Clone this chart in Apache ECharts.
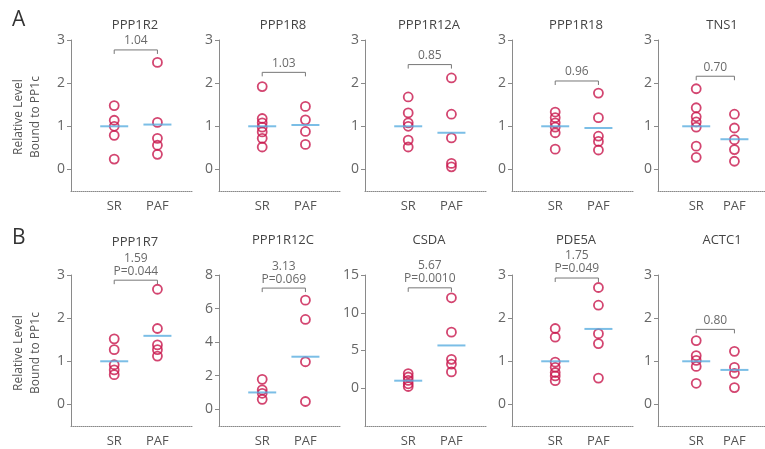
<!DOCTYPE html>
<html>
<head>
<meta charset="utf-8">
<script src="https://cdn.jsdelivr.net/npm/echarts@6/dist/echarts.min.js"></script>
<style>
html,body{margin:0;padding:0;background:#fff;}
#chart{width:765px;height:449px;}
</style>
</head>
<body>
<div id="chart"></div>
<script>
// ---- data ----
const groups = ['SR', 'PAF'];
const titles = ['PPP1R2','PPP1R8','PPP1R12A','PPP1R18','TNS1','PPP1R7','PPP1R12C','CSDA','PDE5A','ACTC1'];
const srValues = [
  [1.48, 1.14, 1.0, 0.79, 0.24],
  [1.92, 1.18, 1.08, 0.98, 0.87, 0.72, 0.52],
  [1.68, 1.31, 1.08, 1.0, 0.68, 0.52],
  [1.33, 1.2, 1.08, 0.98, 0.85, 0.47],
  [1.87, 1.43, 1.22, 1.1, 0.98, 0.54, 0.28],
  [1.52, 1.27, 0.92, 0.8, 0.69],
  [1.78, 1.15, 0.95, 0.59],
  [1.94, 1.49, 1.04, 0.59, 0.23],
  [1.76, 1.56, 0.98, 0.86, 0.74, 0.66, 0.55],
  [1.48, 1.13, 1.02, 0.88, 0.49]
];
const pafValues = [
  [2.48, 1.09, 0.72, 0.56, 0.35],
  [1.46, 1.15, 0.88, 0.58],
  [2.12, 1.28, 0.73, 0.14, 0.06],
  [1.77, 1.2, 0.77, 0.65, 0.45],
  [1.28, 0.96, 0.69, 0.46, 0.19],
  [2.67, 1.76, 1.38, 1.27, 1.12],
  [6.5, 5.35, 2.83, 0.46],
  [11.98, 7.43, 3.83, 3.2, 2.16],
  [2.71, 2.3, 1.64, 1.41, 0.61],
  [1.23, 0.86, 0.72, 0.39]
];
const srMeans = [1, 1, 1, 1, 1, 1, 1, 1, 1, 1];
const pafMeans = [1.04, 1.03, 0.85, 0.96, 0.70, 1.59, 3.13, 5.67, 1.75, 0.80];
const ratioLabels = ['1.04','1.03','0.85','0.96','0.70','1.59\nP=0.044','3.13\nP=0.069','5.67\nP=0.0010','1.75\nP=0.049','0.80'];
const bracketLevels = [2.77, 2.25, 2.43, 2.05, 2.16, 2.88, 7.22, 13.3, 2.93, 1.74];
const yMins = [-0.5, -0.5, -0.5, -0.5, -0.5, -0.5, -1, -5, -0.5, -0.5];
const yMaxs = [3, 3, 3, 3, 3, 3, 8, 15, 3, 3];
const yTickLabels = [
  [0,1,2,3],[0,1,2,3],[0,1,2,3],[0,1,2,3],[0,1,2,3],
  [0,1,2,3],[0,2,4,6,8],[0,5,10,15],[0,1,2,3],[0,1,2,3]
];
const panelLetters = ['A', 'B'];
const yAxisTitle = 'Relative Level\nBound to PP1c';

// ---- layout ----
const colLefts = [71, 219, 365, 512, 658];
const rowTops = [40, 275];
const gw = 121, gh = 151;
const FONT = '"Open Sans", "Noto Sans", sans-serif';
const red = '#c8174c';
const blue = '#5aaee0';
const axisGrey = '#8a8a8a';

const grids = [], xAxes = [], yAxes = [], series = [], graphics = [];
for (let i = 0; i < 10; i++) {
  const r = Math.floor(i / 5), c = i % 5;
  grids.push({left: colLefts[c], top: rowTops[r], width: gw, height: gh, containLabel: false});
  xAxes.push({
    gridIndex: i, type: 'value', min: 0, max: 2.8,
    axisLine: {show: true, onZero: false, lineStyle: {color: axisGrey, width: 1, type: [1, 1]}},
    axisTick: {show: false}, splitLine: {show: false},
    axisLabel: {
      customValues: [1, 2], formatter: v => groups[Math.round(v) - 1],
      color: '#555', fontSize: 13, fontFamily: FONT, margin: 9
    }
  });
  yAxes.push({
    gridIndex: i, type: 'value', min: yMins[i], max: yMaxs[i],
    axisLine: {show: true, onZero: false, lineStyle: {color: axisGrey, width: 1}},
    axisTick: {show: true, length: 4, customValues: yTickLabels[i], lineStyle: {color: axisGrey}},
    splitLine: {show: false},
    axisLabel: {customValues: yTickLabels[i], color: '#666', fontSize: 14, fontFamily: FONT, margin: 6}
  });
  const pts = srValues[i].map(v => [1, v]).concat(pafValues[i].map(v => [2, v]));
  series.push({
    type: 'scatter', xAxisIndex: i, yAxisIndex: i, data: pts,
    symbol: 'circle', symbolSize: 9,
    itemStyle: {color: 'rgba(255,255,255,0)', borderColor: red, borderWidth: 1.8},
    silent: true, z: 2
  });
  series.push({
    type: 'scatter', xAxisIndex: i, yAxisIndex: i,
    data: [[1, srMeans[i]], [2, pafMeans[i]]],
    symbol: 'rect', symbolSize: [28, 2],
    itemStyle: {color: blue}, silent: true, z: 3
  });
  const d = 4 * (yMaxs[i] - yMins[i]) / gh;
  const b = bracketLevels[i];
  series.push({
    type: 'line', xAxisIndex: i, yAxisIndex: i,
    data: [[1, b - d], [1, b], [2, b], [2, b - d]],
    symbol: 'none', lineStyle: {color: '#777', width: 1}, silent: true, z: 1
  });
  series.push({
    type: 'scatter', xAxisIndex: i, yAxisIndex: i,
    data: [[1.5, b]], symbolSize: 1, itemStyle: {color: 'rgba(0,0,0,0)'},
    label: {show: true, position: 'top', distance: 2, formatter: ratioLabels[i],
      color: '#444', fontSize: 12, lineHeight: 13, fontFamily: FONT},
    silent: true
  });
  // panel title
  const ty = r === 0 ? 25 : (i === 5 ? 242 : 240);
  graphics.push({
    type: 'text', x: colLefts[c] + 64, y: ty,
    style: {text: titles[i], fill: '#444', font: '13px ' + FONT, textAlign: 'center', textVerticalAlign: 'middle'}
  });
}
// panel letters and y-axis titles
for (let r = 0; r < 2; r++) {
  graphics.push({
    type: 'text', x: 12, y: r === 0 ? 20 : 238,
    style: {text: panelLetters[r], fill: '#333', font: '21px ' + FONT, textAlign: 'left', textVerticalAlign: 'middle'}
  });
  graphics.push({
    type: 'text', x: 27, y: r === 0 ? 117 : 353, rotation: Math.PI / 2,
    style: {text: yAxisTitle, fill: '#555', font: '12px ' + FONT, lineHeight: 17, textAlign: 'center', textVerticalAlign: 'middle'}
  });
}

const chart = echarts.init(document.getElementById('chart'), null, {renderer: 'canvas'});
chart.setOption({
  animation: false,
  backgroundColor: '#fff',
  grid: grids, xAxis: xAxes, yAxis: yAxes, series: series,
  graphic: graphics
});
</script>
</body>
</html>
